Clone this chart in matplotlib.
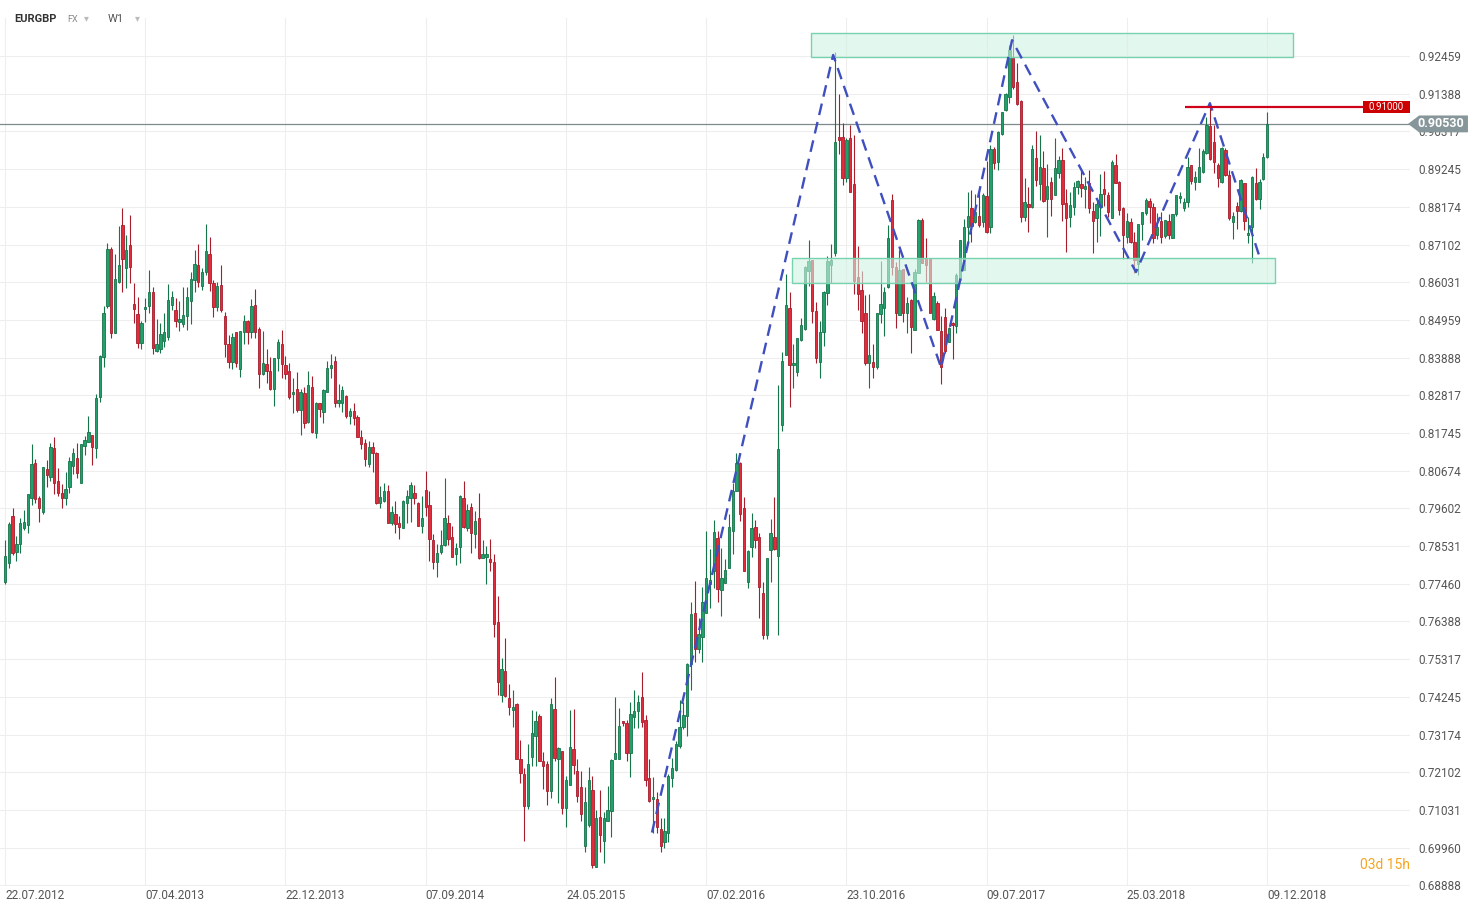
#!/usr/bin/env python3
"""
EURGBP weekly candles (W1), Jul 2012 - Dec 2018, with the double-top zones
and the zigzag drawn by hand on the trading platform.
"""
import numpy as np
import pandas as pd
import matplotlib
matplotlib.use("Agg")
import matplotlib.pyplot as plt
from matplotlib.patches import Rectangle, Polygon
from matplotlib.transforms import blended_transform_factory

# weekly OHLC
opens = [
    0.7752, 0.7806, 0.7940, 0.7837, 0.7860, 0.7905, 0.7914, 0.7991, 0.8090, 0.7991,
    0.7951, 0.8073, 0.8050, 0.8133, 0.8039, 0.8005, 0.7991, 0.8022, 0.8082, 0.8104,
    0.8033, 0.8138, 0.8150, 0.8170, 0.8133, 0.8278, 0.8391, 0.8536, 0.8698, 0.8459,
    0.8604, 0.8766, 0.8644, 0.8709, 0.8542, 0.8513, 0.8431, 0.8527, 0.8536, 0.8576,
    0.8408, 0.8414, 0.8436, 0.8448, 0.8539, 0.8525, 0.8491, 0.8485, 0.8508, 0.8550,
    0.8610, 0.8652, 0.8593, 0.8632, 0.8684, 0.8601, 0.8533, 0.8596, 0.8508, 0.8428,
    0.8377, 0.8462, 0.8357, 0.8462, 0.8493, 0.8462, 0.8539, 0.8471, 0.8343, 0.8371,
    0.8351, 0.8300, 0.8388, 0.8428, 0.8368, 0.8351, 0.8286, 0.8300, 0.8241, 0.8289,
    0.8207, 0.8306, 0.8175, 0.8260, 0.8235, 0.8292, 0.8360, 0.8380, 0.8260, 0.8260,
    0.8280, 0.8224, 0.8238, 0.8221, 0.8164, 0.8147, 0.8087, 0.8136, 0.8118, 0.7976,
    0.7982, 0.8010, 0.7920, 0.7945, 0.7920, 0.7905, 0.7976, 0.7991, 0.8005, 0.7976,
    0.7911, 0.8013, 0.7971, 0.7871, 0.7809, 0.7837, 0.7857, 0.7920, 0.7880, 0.7832,
    0.7851, 0.7991, 0.7905, 0.7965, 0.7888, 0.7934, 0.7820, 0.7823, 0.7815, 0.7809,
    0.7636, 0.7431, 0.7497, 0.7420, 0.7386, 0.7403, 0.7249, 0.7204, 0.7113, 0.7255,
    0.7312, 0.7369, 0.7241, 0.7235, 0.7156, 0.7389, 0.7249, 0.7272, 0.7110, 0.7173,
    0.7275, 0.7213, 0.7167, 0.7002, 0.7059, 0.7159, 0.6940, 0.7082, 0.7014, 0.7071,
    0.7099, 0.7249, 0.7249, 0.7355, 0.7349, 0.7266, 0.7366, 0.7383, 0.7423, 0.7360,
    0.7193, 0.7133, 0.7133, 0.7048, 0.7011, 0.7039, 0.7195, 0.7218, 0.7284, 0.7340,
    0.7369, 0.7519, 0.7664, 0.7562, 0.7596, 0.7664, 0.7746, 0.7783, 0.7877, 0.7729,
    0.7749, 0.7792, 0.7897, 0.8010, 0.8090, 0.7962, 0.7752, 0.7851, 0.7908, 0.7880,
    0.7721, 0.7599, 0.7843, 0.7880, 0.7826, 0.8198, 0.8397, 0.8530, 0.8368, 0.8349,
    0.8439, 0.8471, 0.8635, 0.8667, 0.8522, 0.8377, 0.8462, 0.8573, 0.8652, 0.8686,
    0.9016, 0.9016, 0.8899, 0.9013, 0.8882, 0.8618, 0.8581, 0.8516, 0.8374, 0.8377,
    0.8363, 0.8513, 0.8530, 0.8590, 0.8837, 0.8647, 0.8510, 0.8641, 0.8516, 0.8553,
    0.8468, 0.8630, 0.8780, 0.8672, 0.8672, 0.8499, 0.8545, 0.8465, 0.8505, 0.8434,
    0.8488, 0.8479, 0.8610, 0.8638, 0.8760, 0.8814, 0.8775, 0.8792, 0.8775, 0.8848,
    0.8760, 0.8982, 0.8945, 0.9024, 0.9093, 0.9130, 0.9240, 0.9172, 0.9118, 0.8789,
    0.8826, 0.8817, 0.8956, 0.8882, 0.8928, 0.8840, 0.8888, 0.8851, 0.8914, 0.8951,
    0.8828, 0.8789, 0.8817, 0.8874, 0.8882, 0.8868, 0.8885, 0.8806, 0.8786, 0.8817,
    0.8868, 0.8851, 0.8786, 0.8936, 0.8888, 0.8814, 0.8732, 0.8775, 0.8718, 0.8655,
    0.8769, 0.8800, 0.8834, 0.8817, 0.8738, 0.8777, 0.8735, 0.8777, 0.8729, 0.8797,
    0.8843, 0.8814, 0.8831, 0.8936, 0.8888, 0.8888, 0.8917, 0.8970, 0.9047, 0.9002,
    0.8936, 0.8888, 0.8979, 0.8908, 0.8775, 0.8820, 0.8806, 0.8885, 0.8738, 0.8760,
    0.8885, 0.8840, 0.8897, 0.8959,
]
highs = [
    0.7871, 0.7922, 0.7962, 0.7883, 0.7934, 0.7957, 0.8002, 0.8144, 0.8101, 0.7996,
    0.8079, 0.8099, 0.8147, 0.8164, 0.8076, 0.8030, 0.8064, 0.8107, 0.8133, 0.8147,
    0.8144, 0.8167, 0.8223, 0.8170, 0.8286, 0.8397, 0.8536, 0.8715, 0.8704, 0.8684,
    0.8763, 0.8814, 0.8738, 0.8794, 0.8601, 0.8562, 0.8493, 0.8559, 0.8638, 0.8590,
    0.8499, 0.8488, 0.8516, 0.8598, 0.8579, 0.8559, 0.8550, 0.8590, 0.8590, 0.8632,
    0.8695, 0.8712, 0.8644, 0.8769, 0.8732, 0.8610, 0.8604, 0.8652, 0.8519, 0.8454,
    0.8459, 0.8462, 0.8465, 0.8510, 0.8496, 0.8556, 0.8584, 0.8476, 0.8465, 0.8414,
    0.8391, 0.8388, 0.8442, 0.8468, 0.8394, 0.8374, 0.8331, 0.8348, 0.8300, 0.8306,
    0.8351, 0.8337, 0.8263, 0.8260, 0.8300, 0.8380, 0.8400, 0.8394, 0.8314, 0.8309,
    0.8283, 0.8246, 0.8260, 0.8226, 0.8184, 0.8158, 0.8153, 0.8150, 0.8121, 0.8025,
    0.8033, 0.8027, 0.7968, 0.7982, 0.7940, 0.7985, 0.8013, 0.8036, 0.8027, 0.7979,
    0.7996, 0.8067, 0.8010, 0.7888, 0.7860, 0.7900, 0.8047, 0.7942, 0.7911, 0.7863,
    0.7999, 0.8039, 0.7974, 0.7976, 0.7954, 0.8005, 0.7869, 0.7854, 0.7874, 0.7832,
    0.7710, 0.7536, 0.7593, 0.7460, 0.7443, 0.7406, 0.7301, 0.7221, 0.7292, 0.7386,
    0.7383, 0.7377, 0.7269, 0.7241, 0.7420, 0.7482, 0.7283, 0.7272, 0.7201, 0.7386,
    0.7389, 0.7249, 0.7213, 0.7167, 0.7224, 0.7201, 0.7102, 0.7161, 0.7096, 0.7170,
    0.7249, 0.7423, 0.7394, 0.7357, 0.7360, 0.7411, 0.7443, 0.7431, 0.7494, 0.7374,
    0.7249, 0.7196, 0.7153, 0.7079, 0.7079, 0.7204, 0.7252, 0.7298, 0.7417, 0.7409,
    0.7522, 0.7695, 0.7755, 0.7650, 0.7738, 0.7897, 0.7846, 0.7928, 0.7897, 0.7849,
    0.7817, 0.7945, 0.8033, 0.8118, 0.8093, 0.7994, 0.7843, 0.7948, 0.7928, 0.7891,
    0.7752, 0.7820, 0.7931, 0.7994, 0.8312, 0.8405, 0.8627, 0.8576, 0.8428, 0.8445,
    0.8502, 0.8650, 0.8723, 0.8667, 0.8547, 0.8493, 0.8579, 0.8678, 0.8712, 0.9257,
    0.9138, 0.9056, 0.9013, 0.9050, 0.9022, 0.8706, 0.8635, 0.8567, 0.8570, 0.8428,
    0.8516, 0.8664, 0.8590, 0.8766, 0.8854, 0.8661, 0.8695, 0.8641, 0.8562, 0.8556,
    0.8641, 0.8783, 0.8786, 0.8729, 0.8672, 0.8576, 0.8550, 0.8508, 0.8530, 0.8476,
    0.8491, 0.8630, 0.8723, 0.8783, 0.8860, 0.8865, 0.8854, 0.8857, 0.8857, 0.8948,
    0.8993, 0.8988, 0.9033, 0.9087, 0.9141, 0.9277, 0.9306, 0.9226, 0.9121, 0.8899,
    0.8874, 0.8993, 0.9033, 0.9022, 0.8976, 0.8939, 0.8902, 0.9013, 0.8962, 0.8985,
    0.8868, 0.8860, 0.8888, 0.8894, 0.8922, 0.8902, 0.8922, 0.8831, 0.8837, 0.8911,
    0.8919, 0.8860, 0.8951, 0.8968, 0.8891, 0.8817, 0.8800, 0.8786, 0.8746, 0.8769,
    0.8803, 0.8843, 0.8843, 0.8828, 0.8800, 0.8803, 0.8780, 0.8797, 0.8797, 0.8851,
    0.8860, 0.8843, 0.8959, 0.8936, 0.8919, 0.8985, 0.8982, 0.9073, 0.9112, 0.9050,
    0.8942, 0.8988, 0.8985, 0.8922, 0.8803, 0.8831, 0.8897, 0.8885, 0.8789, 0.8905,
    0.8928, 0.8897, 0.8970, 0.9087,
]
lows = [
    0.7746, 0.7792, 0.7829, 0.7812, 0.7834, 0.7900, 0.7889, 0.7971, 0.7976, 0.7922,
    0.7945, 0.8022, 0.8039, 0.8002, 0.7996, 0.7962, 0.7971, 0.8005, 0.8059, 0.8048,
    0.8033, 0.8113, 0.8150, 0.8084, 0.8104, 0.8263, 0.8363, 0.8530, 0.8445, 0.8459,
    0.8601, 0.8576, 0.8587, 0.8601, 0.8488, 0.8417, 0.8414, 0.8491, 0.8516, 0.8400,
    0.8405, 0.8403, 0.8420, 0.8439, 0.8525, 0.8476, 0.8465, 0.8476, 0.8468, 0.8485,
    0.8576, 0.8590, 0.8581, 0.8624, 0.8579, 0.8505, 0.8522, 0.8519, 0.8391, 0.8360,
    0.8357, 0.8363, 0.8334, 0.8428, 0.8428, 0.8445, 0.8445, 0.8303, 0.8340, 0.8317,
    0.8297, 0.8252, 0.8351, 0.8331, 0.8329, 0.8272, 0.8232, 0.8235, 0.8170, 0.8190,
    0.8204, 0.8175, 0.8161, 0.8221, 0.8204, 0.8292, 0.8331, 0.8249, 0.8249, 0.8235,
    0.8218, 0.8201, 0.8198, 0.8164, 0.8130, 0.8082, 0.8079, 0.8065, 0.7974, 0.7962,
    0.7979, 0.7920, 0.7914, 0.7891, 0.7874, 0.7905, 0.7920, 0.7922, 0.7974, 0.7911,
    0.7891, 0.7940, 0.7812, 0.7789, 0.7766, 0.7832, 0.7854, 0.7857, 0.7823, 0.7798,
    0.7806, 0.7905, 0.7897, 0.7834, 0.7849, 0.7815, 0.7820, 0.7746, 0.7783, 0.7596,
    0.7431, 0.7409, 0.7423, 0.7372, 0.7340, 0.7249, 0.7181, 0.7014, 0.7107, 0.7227,
    0.7227, 0.7241, 0.7164, 0.7116, 0.7136, 0.7241, 0.7122, 0.7093, 0.7056, 0.7173,
    0.7204, 0.7125, 0.7073, 0.6985, 0.7056, 0.6937, 0.6940, 0.6985, 0.6951, 0.7071,
    0.7025, 0.7247, 0.7249, 0.7343, 0.7241, 0.7196, 0.7337, 0.7335, 0.7340, 0.7170,
    0.7125, 0.7039, 0.7039, 0.6983, 0.6994, 0.7011, 0.7167, 0.7213, 0.7278, 0.7332,
    0.7312, 0.7443, 0.7525, 0.7550, 0.7525, 0.7664, 0.7678, 0.7735, 0.7693, 0.7653,
    0.7749, 0.7792, 0.7832, 0.8010, 0.7925, 0.7783, 0.7735, 0.7823, 0.7849, 0.7650,
    0.7590, 0.7590, 0.7752, 0.7843, 0.7599, 0.8181, 0.8397, 0.8249, 0.8303, 0.8337,
    0.8437, 0.8468, 0.8593, 0.8488, 0.8374, 0.8331, 0.8422, 0.8539, 0.8601, 0.8678,
    0.8968, 0.8880, 0.8888, 0.8860, 0.8570, 0.8525, 0.8459, 0.8368, 0.8303, 0.8331,
    0.8357, 0.8488, 0.8451, 0.8587, 0.8624, 0.8473, 0.8510, 0.8491, 0.8459, 0.8403,
    0.8468, 0.8630, 0.8658, 0.8604, 0.8516, 0.8496, 0.8468, 0.8314, 0.8403, 0.8434,
    0.8385, 0.8459, 0.8601, 0.8638, 0.8718, 0.8718, 0.8772, 0.8760, 0.8760, 0.8743,
    0.8743, 0.8925, 0.8922, 0.9022, 0.9090, 0.9113, 0.9152, 0.9107, 0.8775, 0.8777,
    0.8746, 0.8814, 0.8877, 0.8837, 0.8831, 0.8732, 0.8792, 0.8851, 0.8899, 0.8777,
    0.8689, 0.8760, 0.8794, 0.8854, 0.8846, 0.8814, 0.8800, 0.8686, 0.8718, 0.8735,
    0.8820, 0.8789, 0.8786, 0.8885, 0.8794, 0.8669, 0.8715, 0.8715, 0.8630, 0.8624,
    0.8723, 0.8794, 0.8772, 0.8715, 0.8726, 0.8715, 0.8729, 0.8726, 0.8729, 0.8792,
    0.8828, 0.8806, 0.8817, 0.8882, 0.8865, 0.8888, 0.8914, 0.8968, 0.8951, 0.8914,
    0.8874, 0.8885, 0.8905, 0.8780, 0.8726, 0.8755, 0.8803, 0.8752, 0.8715, 0.8658,
    0.8837, 0.8811, 0.8894, 0.8956,
]
closes = [
    0.7826, 0.7917, 0.7834, 0.7860, 0.7919, 0.7922, 0.8002, 0.8087, 0.7988, 0.7962,
    0.8079, 0.8056, 0.8136, 0.8033, 0.8005, 0.7991, 0.8016, 0.8096, 0.8118, 0.8062,
    0.8144, 0.8155, 0.8178, 0.8136, 0.8275, 0.8394, 0.8516, 0.8698, 0.8459, 0.8613,
    0.8652, 0.8669, 0.8695, 0.8647, 0.8527, 0.8431, 0.8488, 0.8533, 0.8576, 0.8417,
    0.8428, 0.8456, 0.8462, 0.8553, 0.8562, 0.8493, 0.8499, 0.8510, 0.8562, 0.8613,
    0.8655, 0.8604, 0.8632, 0.8692, 0.8601, 0.8533, 0.8593, 0.8525, 0.8428, 0.8377,
    0.8448, 0.8374, 0.8465, 0.8493, 0.8462, 0.8536, 0.8462, 0.8343, 0.8374, 0.8351,
    0.8300, 0.8388, 0.8434, 0.8371, 0.8343, 0.8278, 0.8292, 0.8241, 0.8292, 0.8204,
    0.8312, 0.8178, 0.8260, 0.8243, 0.8297, 0.8360, 0.8368, 0.8260, 0.8269, 0.8297,
    0.8224, 0.8238, 0.8218, 0.8164, 0.8144, 0.8101, 0.8136, 0.8118, 0.7976, 0.7994,
    0.8010, 0.7920, 0.7951, 0.7917, 0.7908, 0.7982, 0.7996, 0.8027, 0.7991, 0.7911,
    0.7934, 0.7965, 0.7874, 0.7809, 0.7834, 0.7857, 0.7934, 0.7874, 0.7823, 0.7849,
    0.7996, 0.7908, 0.7957, 0.7891, 0.7925, 0.7818, 0.7832, 0.7832, 0.7809, 0.7633,
    0.7468, 0.7505, 0.7426, 0.7397, 0.7397, 0.7249, 0.7207, 0.7113, 0.7235, 0.7323,
    0.7357, 0.7241, 0.7227, 0.7156, 0.7403, 0.7252, 0.7278, 0.7110, 0.7187, 0.7281,
    0.7230, 0.7144, 0.7093, 0.7125, 0.7187, 0.6946, 0.7079, 0.7031, 0.7079, 0.7102,
    0.7244, 0.7266, 0.7343, 0.7349, 0.7266, 0.7377, 0.7383, 0.7411, 0.7352, 0.7187,
    0.7130, 0.7141, 0.7056, 0.7002, 0.7042, 0.7201, 0.7221, 0.7292, 0.7340, 0.7372,
    0.7519, 0.7661, 0.7562, 0.7604, 0.7695, 0.7761, 0.7758, 0.7894, 0.7732, 0.7761,
    0.7786, 0.7908, 0.8010, 0.8090, 0.7945, 0.7783, 0.7840, 0.7905, 0.7869, 0.7738,
    0.7599, 0.7820, 0.7891, 0.7846, 0.8130, 0.8380, 0.8539, 0.8368, 0.8374, 0.8445,
    0.8482, 0.8647, 0.8664, 0.8522, 0.8388, 0.8462, 0.8576, 0.8664, 0.8667, 0.9002,
    0.9007, 0.8899, 0.9007, 0.8860, 0.8607, 0.8570, 0.8493, 0.8374, 0.8397, 0.8363,
    0.8516, 0.8542, 0.8576, 0.8729, 0.8647, 0.8516, 0.8638, 0.8516, 0.8545, 0.8476,
    0.8632, 0.8780, 0.8658, 0.8652, 0.8516, 0.8564, 0.8468, 0.8363, 0.8408, 0.8473,
    0.8482, 0.8624, 0.8723, 0.8760, 0.8792, 0.8763, 0.8803, 0.8766, 0.8851, 0.8746,
    0.8982, 0.8942, 0.9030, 0.9087, 0.9138, 0.9263, 0.9158, 0.9110, 0.8789, 0.8831,
    0.8817, 0.8982, 0.8894, 0.8931, 0.8834, 0.8877, 0.8840, 0.8928, 0.8951, 0.8826,
    0.8786, 0.8823, 0.8874, 0.8891, 0.8871, 0.8877, 0.8814, 0.8777, 0.8826, 0.8854,
    0.8854, 0.8803, 0.8945, 0.8885, 0.8809, 0.8738, 0.8777, 0.8718, 0.8667, 0.8769,
    0.8803, 0.8837, 0.8817, 0.8729, 0.8760, 0.8732, 0.8780, 0.8738, 0.8797, 0.8851,
    0.8848, 0.8831, 0.8931, 0.8891, 0.8902, 0.8931, 0.8976, 0.9050, 0.8953, 0.8945,
    0.8899, 0.8985, 0.8908, 0.8786, 0.8792, 0.8806, 0.8894, 0.8777, 0.8743, 0.8902,
    0.8840, 0.8888, 0.8959, 0.9053,
]

first_week = "2012-07-22"
label_every = 37  # weeks between date labels

price_ticks = [0.68888, 0.69960, 0.71031, 0.72102, 0.73174, 0.74245, 0.75317,
               0.76388, 0.77460, 0.78531, 0.79602, 0.80674, 0.81745, 0.82817,
               0.83888, 0.84959, 0.86031, 0.87102, 0.88174, 0.89245, 0.90317,
               0.91388, 0.92459]

current_price = 0.90530
target_price = 0.91000
target_from = 311.3  # candle index where the red level starts

# resistance / support zones: (first candle, last candle, low, high)
zone_top = (212.7, 339.8, 0.9243, 0.9311)
zone_bottom = (207.7, 335.1, 0.8601, 0.8672)

# hand drawn zigzag (candle index, price)
zigzag_idx = [170.7, 218.5, 247.0, 265.7, 298.4, 317.9, 331.1]
zigzag_price = [0.7039, 0.9249, 0.8360, 0.9291, 0.8632, 0.9112, 0.8672]

GREEN = "#22a06b"
GREEN_EDGE = "#167449"
RED = "#e32b3c"
RED_EDGE = "#a61d2b"


def main():
    plt.rcParams["font.family"] = ["Roboto", "DejaVu Sans"]

    n = len(closes)
    for name, arr in (("opens", opens), ("highs", highs), ("lows", lows)):
        if len(arr) != n:
            raise ValueError(f"{name} has {len(arr)} values, closes has {n}")

    o = np.array(opens)
    h = np.array(highs)
    l = np.array(lows)
    c = np.array(closes)
    idx = np.arange(n)
    dates = pd.date_range(first_week, periods=n, freq="7D")
    up = c >= o

    fig = plt.figure(figsize=(14.78, 9.10), dpi=100)
    ax = fig.add_axes([0, 24 / 910, 1410 / 1478, 868 / 910])
    ax.set_xlim(-1.32, 370.7)
    ax.set_ylim(0.6887, 0.9354)
    for s in ax.spines.values():
        s.set_visible(False)

    # grid
    ticks_x = idx[::label_every]
    ax.set_xticks(ticks_x)
    ax.set_xticklabels(dates[::label_every].strftime("%d.%m.%Y"))
    for lab in ax.get_xticklabels():
        lab.set_ha("left")
    ax.set_yticks(price_ticks)
    ax.set_yticklabels([f"{v:.5f}" for v in price_ticks])
    ax.yaxis.tick_right()
    ax.tick_params(axis="x", length=0, pad=2, labelsize=8.5, labelcolor="#555555")
    ax.tick_params(axis="y", length=0, pad=6, labelsize=8.5, labelcolor="#555555")
    ax.grid(True, color="#eeeeee", lw=0.8, zorder=0)
    ax.set_axisbelow(True)

    # candles
    wick_col = np.where(up, GREEN_EDGE, RED_EDGE)
    ax.vlines(idx, l, h, colors=wick_col, lw=0.8, zorder=3)
    bottoms = np.minimum(o, c)
    heights = np.maximum(np.abs(c - o), 0.00025)
    ax.bar(idx, heights, bottom=bottoms, width=0.62,
           color=np.where(up, GREEN, RED), edgecolor=wick_col,
           linewidth=0.6, zorder=4)

    # zones on top of candles
    for x0, x1, lo, hi in (zone_top, zone_bottom):
        ax.add_patch(Rectangle((x0, lo), x1 - x0, hi - lo,
                               facecolor=(0.816, 0.949, 0.894, 0.6),
                               edgecolor="#76d3ae", lw=1.0, zorder=5))

    # zigzag
    ax.plot(zigzag_idx, zigzag_price, color="#3f4fbf", lw=1.7,
            linestyle=(0, (5, 3)), zorder=6)

    # current price and the 0.91 level
    ax.axhline(current_price, color="#7d8b8f", lw=0.9, zorder=2)
    ax.hlines(target_price, target_from, 370.7, color="#d0021b", lw=1.6, zorder=6)

    tr = blended_transform_factory(ax.transAxes, ax.transData)
    ax.add_patch(Rectangle((0.9667, target_price - 0.0017), 0.0333, 0.0034,
                           facecolor="#cc0000", edgecolor="none",
                           transform=tr, clip_on=False, zorder=7))
    ax.text(0.9833, target_price, f"{target_price:.5f}", transform=tr,
            ha="center", va="center", color="white", fontsize=7, zorder=8)

    dh = 0.0024
    tag = Polygon([(0.9986, current_price), (1.0065, current_price + dh),
                   (1.0411, current_price + dh), (1.0411, current_price - dh),
                   (1.0065, current_price - dh)],
                  closed=True, facecolor="#87969a", edgecolor="none",
                  transform=tr, clip_on=False, zorder=9)
    ax.add_patch(tag)
    ax.text(1.0215, current_price, f"{current_price:.5f}", transform=tr,
            ha="center", va="center", color="white", fontsize=9,
            fontweight="bold", zorder=10, clip_on=False)

    ax.text(1.0, 0.6946, "03d 15h", transform=tr, ha="right", va="center",
            color="#f5a623", fontsize=10)

    # header
    fig.text(14 / 1478, 1 - 19 / 910, "EURGBP", fontsize=8, fontweight="bold",
             color="#333333", va="center")
    fig.text(67 / 1478, 1 - 19 / 910, "FX", fontsize=6.5, color="#8a8a8a",
             va="center")
    fig.text(84 / 1478, 1 - 18 / 910, "▾", fontsize=7, color="#bbbbbb",
             va="center")
    fig.text(108 / 1478, 1 - 19 / 910, "W1", fontsize=8, color="#555555",
             va="center")
    fig.text(135 / 1478, 1 - 18 / 910, "▾", fontsize=7, color="#bbbbbb",
             va="center")

    fig.savefig("out.png", dpi=100)


if __name__ == "__main__":
    main()
